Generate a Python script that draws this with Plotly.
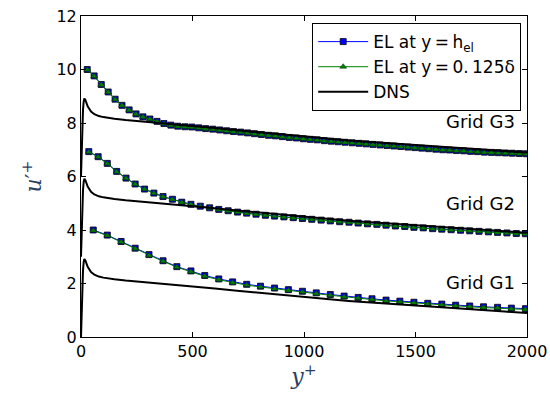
import plotly.graph_objects as go

# ---------------- data ----------------
dns_yplus = [0, 2, 4, 6, 9, 12, 15, 20, 30, 45, 60, 80, 100, 150, 200, 300, 400, 500, 600, 700,
             800, 900, 1000, 1100, 1200, 1300, 1400, 1500, 1600, 1700, 1800, 1900, 2000]
dns_u = [0, 0.75, 1.45, 1.95, 2.5, 2.8, 2.92, 2.85, 2.62, 2.43, 2.33, 2.26, 2.22, 2.16, 2.11, 2.04,
         1.97, 1.89, 1.81, 1.73, 1.65, 1.57, 1.49, 1.42, 1.35, 1.29, 1.23, 1.17, 1.11, 1.06, 1.00, 0.95, 0.90]
grid_names = ["Grid G1", "Grid G2", "Grid G3"]
grid_offsets = [0, 3, 6]
label_y = [2.02, 5.0, 8.05]

g1_yplus = [55, 118, 180, 243, 305, 368, 430, 493, 555, 618, 680, 743, 805, 868, 930, 993,
            1055, 1118, 1180, 1243, 1305, 1368, 1430, 1493, 1555, 1618, 1680, 1743, 1805, 1868, 1930, 1993]
g1_hel = [4.00, 3.81, 3.57, 3.32, 3.08, 2.85, 2.63, 2.47, 2.30, 2.17, 2.06, 1.97, 1.90, 1.83, 1.77, 1.71,
          1.65, 1.59, 1.53, 1.48, 1.43, 1.38, 1.34, 1.30, 1.26, 1.23, 1.19, 1.16, 1.13, 1.11, 1.08, 1.06]
g1_d125 = [3.98, 3.79, 3.55, 3.30, 3.05, 2.83, 2.61, 2.44, 2.27, 2.14, 2.03, 1.94, 1.87, 1.80, 1.74, 1.68,
           1.62, 1.56, 1.50, 1.45, 1.40, 1.35, 1.31, 1.27, 1.23, 1.20, 1.16, 1.13, 1.10, 1.08, 1.05, 1.03]

g2_yplus = [35, 77, 118, 160, 202, 243, 285, 327, 368, 410, 452, 493, 535, 577, 618, 660, 702, 743, 785, 827,
            868, 910, 952, 993, 1035, 1077, 1118, 1160, 1202, 1243, 1285, 1327, 1368, 1410, 1452, 1493,
            1535, 1577, 1618, 1660, 1702, 1743, 1785, 1827, 1868, 1910, 1952, 1993]
g2_hel = [6.93, 6.74, 6.49, 6.19, 5.94, 5.72, 5.53, 5.38, 5.25, 5.15, 5.04, 4.96, 4.89, 4.83, 4.77, 4.72,
          4.67, 4.63, 4.59, 4.55, 4.52, 4.49, 4.46, 4.43, 4.40, 4.37, 4.34, 4.31, 4.29, 4.26, 4.23, 4.21,
          4.18, 4.15, 4.13, 4.10, 4.08, 4.05, 4.03, 4.01, 3.99, 3.97, 3.95, 3.93, 3.91, 3.89, 3.87, 3.86]
g2_d125 = [6.92, 6.73, 6.48, 6.18, 5.93, 5.71, 5.52, 5.37, 5.24, 5.14, 5.03, 4.95, 4.88, 4.82, 4.76, 4.71,
           4.66, 4.62, 4.58, 4.54, 4.51, 4.48, 4.45, 4.42, 4.39, 4.36, 4.33, 4.30, 4.28, 4.25, 4.22, 4.20,
           4.17, 4.14, 4.12, 4.09, 4.07, 4.04, 4.02, 4.00, 3.98, 3.96, 3.94, 3.92, 3.90, 3.88, 3.86, 3.85]

g3_yplus = [28, 59, 91, 122, 153, 184, 216, 247, 278, 309, 341, 372, 403, 434, 466, 497, 528, 559, 591, 622,
            653, 684, 716, 747, 778, 809, 841, 872, 903, 934, 966, 997, 1028, 1059, 1091, 1122, 1153, 1184,
            1216, 1247, 1278, 1309, 1341, 1372, 1403, 1434, 1466, 1497, 1528, 1559, 1591, 1622, 1653, 1684,
            1716, 1747, 1778, 1809, 1841, 1872, 1903, 1934, 1966, 1997]
g3_hel = [10.00, 9.76, 9.44, 9.16, 8.89, 8.66, 8.49, 8.34, 8.23, 8.15, 8.06, 7.98, 7.92, 7.88, 7.86, 7.85,
          7.82, 7.79, 7.77, 7.74, 7.71, 7.68, 7.66, 7.63, 7.60, 7.57, 7.54, 7.52, 7.49, 7.46, 7.44, 7.41,
          7.39, 7.37, 7.34, 7.32, 7.30, 7.28, 7.26, 7.24, 7.22, 7.20, 7.18, 7.16, 7.14, 7.12, 7.10, 7.08,
          7.06, 7.04, 7.02, 7.00, 6.99, 6.97, 6.96, 6.94, 6.93, 6.91, 6.90, 6.89, 6.88, 6.87, 6.86, 6.85]
g3_d125 = [9.99, 9.75, 9.43, 9.15, 8.88, 8.65, 8.48, 8.33, 8.22, 8.14, 8.05, 7.97, 7.91, 7.87, 7.85, 7.84,
           7.81, 7.78, 7.76, 7.73, 7.70, 7.67, 7.65, 7.62, 7.59, 7.56, 7.53, 7.51, 7.48, 7.45, 7.43, 7.40,
           7.38, 7.36, 7.33, 7.31, 7.29, 7.27, 7.25, 7.23, 7.21, 7.19, 7.17, 7.15, 7.13, 7.11, 7.09, 7.07,
           7.05, 7.03, 7.01, 6.99, 6.98, 6.96, 6.95, 6.93, 6.92, 6.90, 6.89, 6.88, 6.87, 6.86, 6.85, 6.84]

x_ticks = [0, 500, 1000, 1500, 2000]
y_ticks = [0, 2, 4, 6, 8, 10, 12]

# ---------------- figure ----------------
BLUE = "#0000ff"
GREEN = "#008000"
FONT = "DejaVu Sans"

fig = go.Figure()
el_sets = [(g1_yplus, g1_hel, g1_d125), (g2_yplus, g2_hel, g2_d125), (g3_yplus, g3_hel, g3_d125)]
for i, (xs, hel, d125) in enumerate(el_sets):
    fig.add_trace(go.Scatter(
        x=xs, y=hel, mode="lines+markers", name="EL at y\u2009=\u2009h<sub>el</sub>",
        legendgroup="hel", showlegend=(i == 0),
        line=dict(color=BLUE, width=1),
        marker=dict(symbol="square", size=6, color=BLUE, line=dict(color="black", width=0.8))))
    fig.add_trace(go.Scatter(
        x=xs, y=d125, mode="lines+markers", name="EL at y\u2009=\u20090.\u2009125δ",
        legendgroup="d125", showlegend=(i == 0),
        line=dict(color=GREEN, width=1),
        marker=dict(symbol="triangle-up", size=6, color=GREEN, line=dict(color="#002000", width=0.5))))

for i, off in enumerate(grid_offsets):
    fig.add_trace(go.Scatter(
        x=dns_yplus, y=[v + off for v in dns_u], mode="lines", name="DNS",
        legendgroup="dns", showlegend=(i == 0),
        line=dict(color="black", width=2)))

for name, yy in zip(grid_names, label_y):
    fig.add_annotation(x=1955, y=yy, text=name, showarrow=False, xanchor="right", yanchor="middle",
                       font=dict(family=FONT, size=18, color="black"))

axis_common = dict(showline=True, linecolor="black", linewidth=1, mirror="ticks",
                   ticks="inside", ticklen=5, tickcolor="black", showgrid=False, zeroline=False,
                   tickfont=dict(family=FONT, size=16, color="black"))
fig.update_xaxes(range=[0, 2000], tickvals=x_ticks, ticktext=[str(t) for t in x_ticks],
                 title=dict(text="<i>y</i><sup>+</sup>", font=dict(family="DejaVu Serif", size=22), standoff=4),
                 **axis_common)
fig.update_yaxes(range=[0, 12], tickvals=y_ticks, ticktext=[str(t) for t in y_ticks],
                 title=dict(text="<i>u</i>′<sup>+</sup>", font=dict(family="DejaVu Serif", size=22), standoff=8),
                 **axis_common)

fig.update_layout(
    width=550, height=402,
    margin=dict(l=81, r=23, t=16, b=65, autoexpand=False),
    paper_bgcolor="white", plot_bgcolor="white",
    showlegend=True,
    legend=dict(x=0.987, y=0.978, xanchor="right", yanchor="top",
                bgcolor="white", bordercolor="black", borderwidth=1,
                font=dict(family=FONT, size=17, color="black"),
                tracegroupgap=0, itemwidth=50),
)

fig.write_html("out.html")
